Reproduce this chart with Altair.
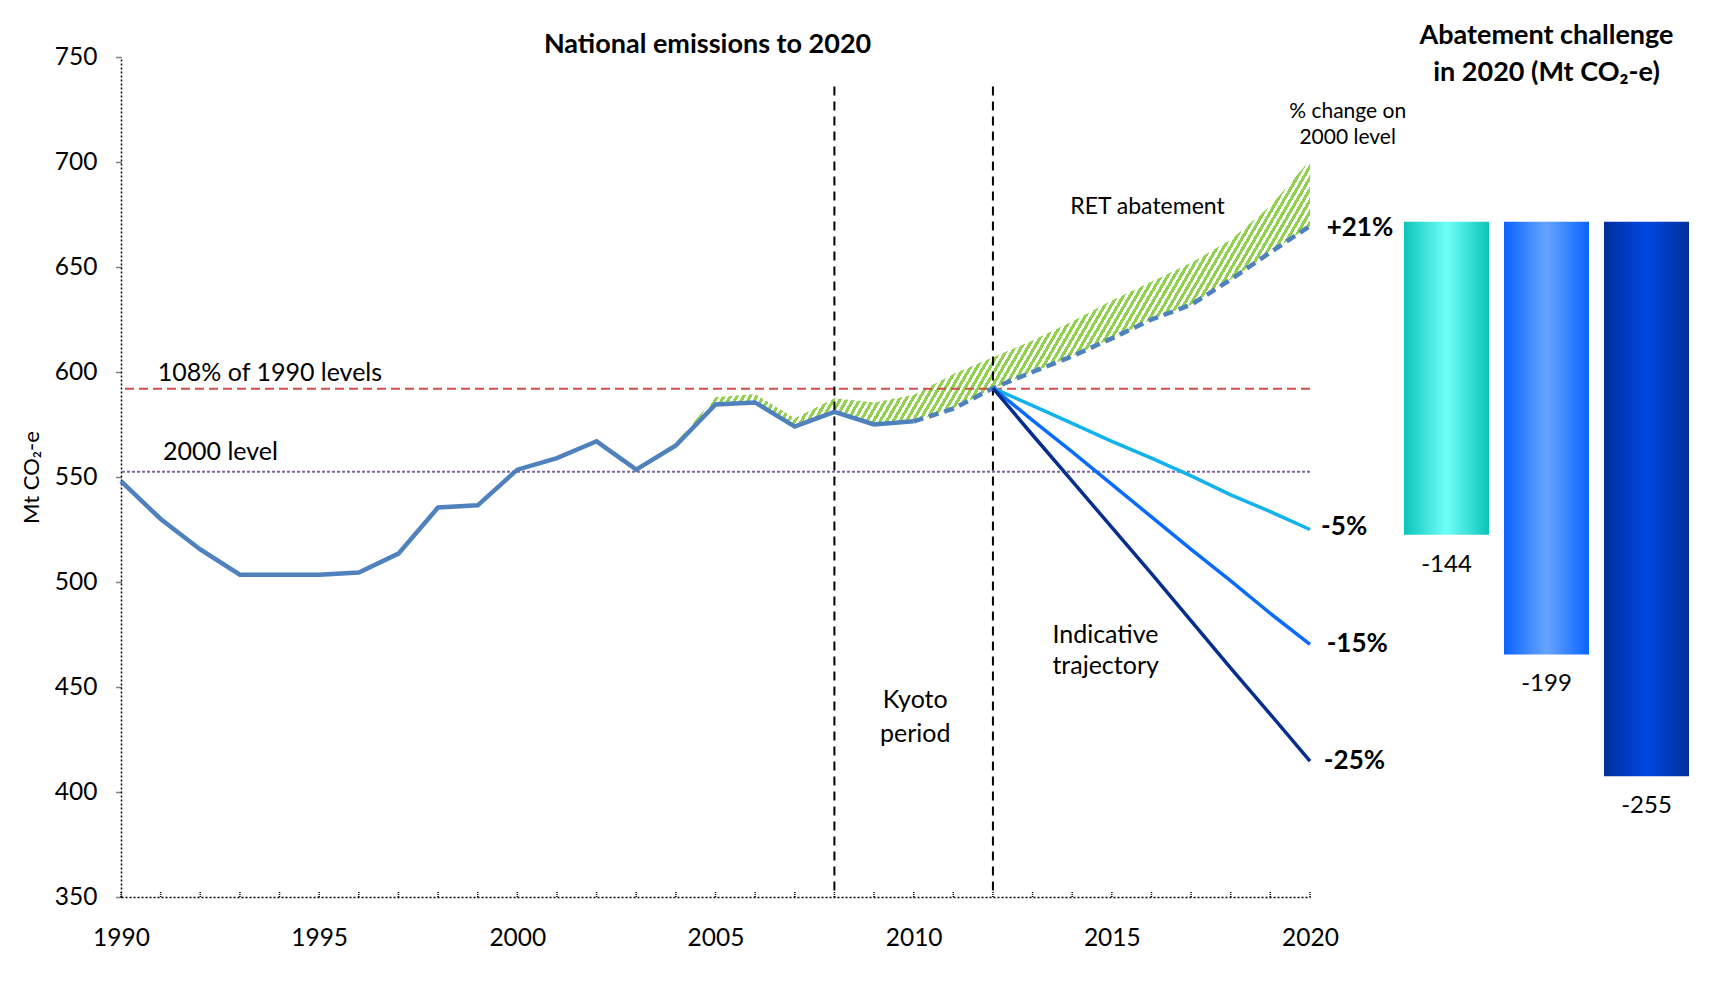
import altair as alt
import pandas as pd

# ---------------- data ----------------
hist_years = list(range(1990, 2011))
hist_values = [548, 530, 515.5, 503.5, 503.5, 503.5, 504.5, 513.5, 535.5, 536.5,
               553.5, 559, 567, 553.5, 565, 584.5, 585.5, 574, 581, 575, 576.5]

proj_years = list(range(2010, 2021))
proj_values = [576.5, 582.5, 592.3, 600, 607.5, 616, 625, 632, 644, 657, 669.5]

ret_years = list(range(2003, 2021))
ret_upper = [553.5, 566.5, 588, 589.5, 578, 587.5, 585.5, 589, 599, 607,
             615, 624, 634, 643, 652, 663, 679, 701]
ret_lower = [553.5, 565, 584.5, 585.5, 574, 581, 575, 576.5, 582.5, 592.3,
             600, 607.5, 616, 625, 632, 644, 657, 669.5]

traj_years = list(range(2012, 2021))
traj_minus5 = [592.3, 584, 575.5, 567, 559, 550.5, 541.5, 533.5, 525]
traj_minus15 = [592.3, 577, 562, 546.5, 531, 515.5, 500.5, 485, 470.3]
traj_minus25 = [592.3, 570, 548, 526, 504, 481.5, 459, 437, 414.7]

level_108_1990 = 592
level_2000 = 552.5
kyoto_years = [2008, 2012]

scenarios = ["-5%", "-15%", "-25%"]
abatement = [-144, -199, -255]

x_label_years = [1990, 1995, 2000, 2005, 2010, 2015, 2020]
y_ticks = [350, 400, 450, 500, 550, 600, 650, 700, 750]
tick_years = list(range(1990, 2021))

FONT = "Lato"

# ---------------- tables ----------------
hist_df = pd.DataFrame({"year": hist_years, "value": hist_values})
proj_df = pd.DataFrame({"year": proj_years, "value": proj_values})
ret_df = pd.DataFrame({"year": ret_years, "upper": ret_upper, "lower": ret_lower})
traj_df = pd.concat([
    pd.DataFrame({"year": traj_years, "value": traj_minus5, "s": "-5%"}),
    pd.DataFrame({"year": traj_years, "value": traj_minus15, "s": "-15%"}),
    pd.DataFrame({"year": traj_years, "value": traj_minus25, "s": "-25%"}),
])
kyoto_df = pd.DataFrame({"year": kyoto_years})
ticks_df = pd.DataFrame({"year": tick_years})
bars_df = pd.DataFrame({"scenario": scenarios, "value": abatement})

# ---------------- scales ----------------
xs = alt.Scale(domain=[1990, 2020], nice=False, zero=False)
ys = alt.Scale(domain=[350, 750], nice=False, zero=False)

x_axis = alt.Axis(values=x_label_years, format="d", grid=False, ticks=False,
                  domainColor="black", domainDash=[2, 2], domainWidth=1.5,
                  labelPadding=29, labelFlush=False, labelOverlap=False, title=None)
y_axis = alt.Axis(values=y_ticks, grid=False, tickSize=5, tickColor="black",
                  tickDash=[1, 1], tickWidth=1.5, domainColor="black",
                  domainDash=[2, 2], domainWidth=1.5, labelPadding=19,
                  labelFlush=False, titlePadding=11, title="Mt CO₂-e")

X = alt.X("year:Q", scale=xs, axis=x_axis)
Y = alt.Y("value:Q", scale=ys, axis=y_axis)

# hatched fill for RET abatement (striped gradient)
n_periods = 132
stops = []
for i in range(n_periods):
    a = i / n_periods
    b = (i + 0.55) / n_periods
    c = (i + 1) / n_periods
    stops += [alt.GradientStop(offset=a, color="#92D050"),
              alt.GradientStop(offset=b, color="#92D050"),
              alt.GradientStop(offset=b, color="#FFFFFF"),
              alt.GradientStop(offset=c, color="#FFFFFF")]
hatch = alt.Gradient(gradient="linear", stops=stops, x1=0, y1=0, x2=1.2, y2=0.32)

area = alt.Chart(ret_df).mark_area(color=hatch, opacity=1).encode(
    x=X, y=alt.Y("upper:Q", scale=ys, axis=y_axis), y2="lower:Q")

red_rule = alt.Chart().mark_rule(color="#CF4F4B", strokeDash=[9, 5], strokeWidth=2).encode(
    y=alt.datum(level_108_1990, scale=ys))
purple_rule = alt.Chart().mark_rule(color="#8064A2", strokeDash=[3, 2], strokeWidth=2).encode(
    y=alt.datum(level_2000, scale=ys))

kyoto = alt.Chart(kyoto_df).mark_rule(color="black", strokeDash=[9, 6], strokeWidth=2).encode(
    x=alt.X("year:Q", scale=xs, axis=x_axis), y=alt.datum(736), y2=alt.datum(350))

xticks = alt.Chart(ticks_df).mark_rule(color="black", strokeDash=[1, 1], strokeWidth=1.5).encode(
    x=alt.X("year:Q", scale=xs, axis=x_axis), y=alt.datum(350), y2=alt.datum(352.8))

hist_line = alt.Chart(hist_df).mark_line(color="#4F81BD", strokeWidth=4.5).encode(x=X, y=Y)
proj_line = alt.Chart(proj_df).mark_line(color="#4F81BD", strokeWidth=4.5,
                                         strokeDash=[10, 6]).encode(x=X, y=Y)

traj = alt.Chart(traj_df).mark_line(strokeWidth=3.5).encode(
    x=X, y=Y,
    color=alt.Color("s:N", scale=alt.Scale(domain=["-5%", "-15%", "-25%"],
                                           range=["#12B2EC", "#0A6CFF", "#062E8E"]),
                    legend=None),
    detail="s:N")


def label(text, x, y, size=25, weight="normal", align="left"):
    return alt.Chart().mark_text(text=text, font=FONT, fontSize=size, fontWeight=weight,
                                 align=align, baseline="middle", color="black").encode(
        x=alt.datum(x), y=alt.datum(y))


texts = [
    label("National emissions to 2020", 2004.8, 755.5, size=27, weight="bold", align="center"),
    label("108% of 1990 levels", 1990.93, 599.6),
    label("2000 level", 1991.06, 561.8),
    label("Kyoto", 2010.04, 443.7, align="center"),
    label("period", 2010.04, 427.8, align="center"),
    label("Indicative", 2013.5, 474.6),
    label("trajectory", 2013.5, 459.8),
    label("RET abatement", 2015.9, 678.4, size=23, align="center"),
    label("% change on", 2020.95, 723.6, size=21, align="center"),
    label("2000 level", 2020.95, 711.2, size=21, align="center"),
    label("+21%", 2020.42, 668.5, size=26, weight="bold"),
    label("-5%", 2020.28, 526, size=26, weight="bold"),
    label("-15%", 2020.42, 470.3, size=26, weight="bold"),
    label("-25%", 2020.35, 414.6, size=26, weight="bold"),
]

left = alt.layer(area, red_rule, purple_rule, kyoto, xticks, hist_line, proj_line, traj,
                 *texts).properties(width=1189, height=840)

# ---------------- right panel: abatement bars ----------------
bx = alt.Scale(domain=scenarios, paddingInner=0.15, paddingOuter=0)
by = alt.Scale(domain=[-310.5, 75.7], nice=False, zero=False)


def grad(edge, mid):
    return alt.Gradient(gradient="linear", x1=0, y1=0, x2=1, y2=0,
                        stops=[alt.GradientStop(offset=0, color=edge),
                               alt.GradientStop(offset=0.5, color=mid),
                               alt.GradientStop(offset=1, color=edge)])


bar_colors = {"-5%": ("#0BC4BA", "#70FFF8"),
              "-15%": ("#0A64FF", "#66A3FF"),
              "-25%": ("#002F9C", "#0048E0")}

bar_layers = []
for s in scenarios:
    edge, mid = bar_colors[s]
    bar_layers.append(
        alt.Chart(bars_df).transform_filter(alt.datum.scenario == s).mark_bar(
            color=grad(edge, mid)).encode(
            x=alt.X("scenario:N", scale=bx, axis=None, sort=scenarios),
            y=alt.Y("value:Q", scale=by, axis=None),
            y2=alt.datum(0)))

bar_labels = alt.Chart(bars_df).transform_calculate(
    lbl="toString(datum.value)"
).mark_text(font=FONT, fontSize=24, dy=30, baseline="middle", color="black").encode(
    x=alt.X("scenario:N", scale=bx, axis=None, sort=scenarios),
    y=alt.Y("value:Q", scale=by, axis=None),
    text="lbl:N")

rtitle1 = alt.Chart().mark_text(text="Abatement challenge", font=FONT, fontSize=27,
                                fontWeight="bold", baseline="middle", color="black").encode(
    x=alt.datum("-15%", scale=bx), y=alt.datum(85.3))
rtitle2 = alt.Chart().mark_text(text="in 2020  (Mt CO₂-e)", font=FONT, fontSize=27,
                                fontWeight="bold", baseline="middle", color="black").encode(
    x=alt.datum("-15%", scale=bx), y=alt.datum(68.3))

right = alt.layer(*bar_layers, bar_labels, rtitle1, rtitle2).properties(width=285, height=840)

chart = alt.hconcat(left, right, spacing=94, bounds="flush").properties(
    padding={"left": 12, "top": 14, "right": 5, "bottom": 5}
).configure_view(stroke=None).configure_axis(
    labelFont=FONT, labelFontSize=24.5, labelColor="black",
    titleFont=FONT, titleFontSize=22, titleFontWeight="normal", titleColor="black")

chart.save("out.html", embed_options={"renderer": "svg", "actions": False})
